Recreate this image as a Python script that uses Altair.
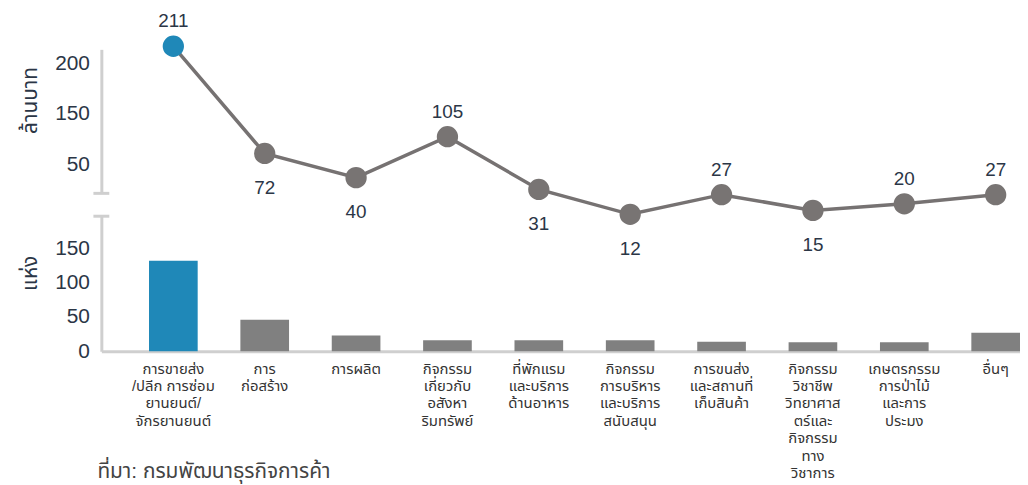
import altair as alt
import pandas as pd

# ---------------- data ----------------
categories = [
    "การขายส่ง\n/ปลีก การซ่อม\nยานยนต์/\nจักรยานยนต์",
    "การ\nก่อสร้าง",
    "การผลิต",
    "กิจกรรม\nเกี่ยวกับ\nอสังหา\nริมทรัพย์",
    "ที่พักแรม\nและบริการ\nด้านอาหาร",
    "กิจกรรม\nการบริหาร\nและบริการ\nสนับสนุน",
    "การขนส่ง\nและสถานที่\nเก็บสินค้า",
    "กิจกรรม\nวิชาชีพ\nวิทยาศาส\nตร์และ\nกิจกรรม\nทาง\nวิชาการ",
    "เกษตรกรรม\nการป่าไม้\nและการ\nประมง",
    "อื่นๆ",
]
capital_mb = [211, 72, 40, 105, 31, 12, 27, 15, 20, 27]     # ล้านบาท
firms = [132, 46, 23, 16, 16, 16, 14, 13, 13, 27]           # แห่ง
label_side = ["above", "below", "below", "above", "below",
              "below", "above", "below", "above", "above"]
group = ["top"] + ["other"] * 9

top_y_ticks = [50, 150, 200]
bottom_y_ticks = [0, 50, 100, 150]
source_text = "ที่มา: กรมพัฒนาธุรกิจการค้า"

# ---------------- style ----------------
BLUE = "#1f88b8"
GRAY_BAR = "#808080"
GRAY_PT = "#787473"
LINE = "#767272"
AXIS = "#cfcfcf"
TEXT = "#2b3646"
FONT = "Liberation Sans, Noto Sans Thai, Noto Sans, sans-serif"

W = 925
H_TOP = 145
H_BOT = 136

df = pd.DataFrame({"cat": categories, "capital": capital_mb, "firms": firms,
                   "side": label_side, "group": group})
one = pd.DataFrame({"a": [0]})

xscale = alt.Scale(type="band", domain=categories, paddingInner=0.4674,
                   paddingOuter=0.2608, align=1)

# ---------------- top panel: registered capital ----------------
x_top = alt.X("cat:N", scale=xscale, sort=None, axis=None)
y_top = alt.Y(
    "capital:Q",
    scale=alt.Scale(domain=[28, 50, 150, 200, 209], range=[H_TOP, 116, 65, 14, 0],
                    zero=False, nice=False),
    axis=alt.Axis(values=top_y_ticks, ticks=False, grid=False, domainColor=AXIS,
                  domainWidth=3, labelFontSize=21, labelColor=TEXT, labelPadding=12,
                  title="ล้านบาท", titleFontSize=21, titleFontWeight="normal",
                  titleColor=TEXT, titleAngle=-90, titleX=-71, titleY=51,
                  titleAlign="center", titleBaseline="middle"),
)
color_top = alt.Color("group:N", scale=alt.Scale(domain=["top", "other"], range=[BLUE, GRAY_PT]),
                      legend=None)

base_top = alt.Chart(df).encode(x=x_top, y=y_top)
line = base_top.mark_line(color=LINE, strokeWidth=3.5)
points = base_top.mark_circle(size=460, opacity=1).encode(color=color_top)
txt_above = base_top.mark_text(dy=-25, fontSize=19, color=TEXT).encode(
    text="capital:Q").transform_filter(alt.datum.side == "above")
txt_below = base_top.mark_text(dy=35, fontSize=19, color=TEXT).encode(
    text="capital:Q").transform_filter(alt.datum.side == "below")
cap_top = alt.Chart(one).mark_rule(color=AXIS, strokeWidth=3).encode(
    x=alt.value(-8), x2=alt.value(8), y=alt.value(H_TOP))

top = alt.layer(line, points, txt_above, txt_below, cap_top).properties(width=W, height=H_TOP)

# ---------------- bottom panel: number of firms ----------------
x_bot = alt.X("cat:N", scale=xscale, sort=None,
              axis=alt.Axis(title=None, ticks=False, labelAngle=0,
                            labelExpr="split(datum.label, '\\n')",
                            labelFontSize=15, labelLineHeight=17.5, labelPadding=10,
                            labelColor="#333333", labelOverlap=False,
                            domainColor=AXIS, domainWidth=3))
y_bot = alt.Y("firms:Q", scale=alt.Scale(domain=[0, 197], nice=False),
              axis=alt.Axis(values=bottom_y_ticks, ticks=False, grid=False,
                            domainColor=AXIS, domainWidth=3, labelFontSize=21,
                            labelColor=TEXT, labelPadding=12,
                            title="แห่ง", titleFontSize=21, titleFontWeight="normal",
                            titleColor=TEXT, titleAngle=-90, titleX=-71, titleY=57,
                            titleAlign="center", titleBaseline="middle"))
color_bot = alt.Color("group:N", scale=alt.Scale(domain=["top", "other"], range=[BLUE, GRAY_BAR]),
                      legend=None)

bars = alt.Chart(df).mark_bar().encode(x=x_bot, y=y_bot, color=color_bot)
cap_bot = alt.Chart(one).mark_rule(color=AXIS, strokeWidth=3).encode(
    x=alt.value(-8), x2=alt.value(8), y=alt.value(0))

bottom = alt.layer(bars, cap_bot).properties(
    width=W, height=H_BOT,
    title=alt.TitleParams(source_text, orient="bottom", anchor="start", frame="group",
                          fontSize=21, fontWeight="normal", color="#444444",
                          offset=-19, dx=-4),
)

chart = (
    alt.vconcat(top, bottom, spacing=23, bounds="flush")
    .resolve_scale(x="independent", color="independent")
    .properties(padding={"left": 12, "top": 2, "right": 0, "bottom": 0})
    .configure(font=FONT)
    .configure_view(stroke=None)
)

chart.save("out.html", embed_options={"renderer": "svg", "actions": False})
